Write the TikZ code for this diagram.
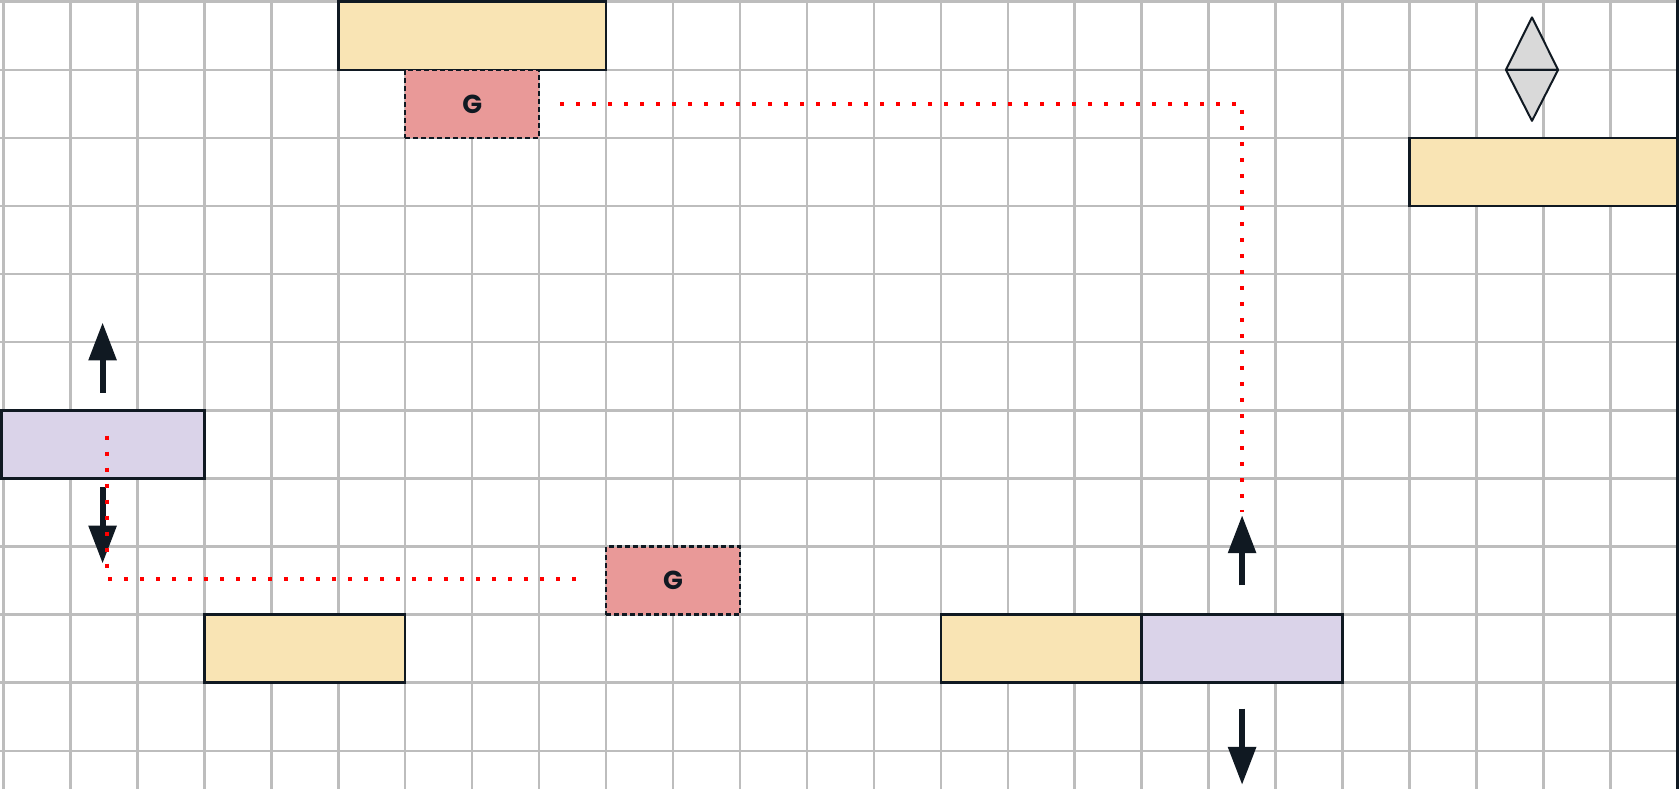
\documentclass[tikz,border=0pt]{standalone}
\usepackage{fontspec}
\setmainfont{Poppins}
\usetikzlibrary{arrows.meta,fit}
\definecolor{gridgray}{HTML}{BDBDBD}
\definecolor{ink}{HTML}{101922}
\definecolor{sand}{HTML}{F9E4B4}
\definecolor{lilac}{HTML}{DAD3E9}
\definecolor{rose}{HTML}{E99998}
\definecolor{diagray}{HTML}{D9D9D9}
\tikzset{
  gridline/.style={gridgray, line width=0.025cm},
  box/.style={draw=ink, line width=0.025cm, inner sep=0pt, outer sep=0pt},
  sandbox/.style={box, fill=sand},
  lilacbox/.style={box, fill=lilac},
  gbox/.style={box, fill=rose, dash pattern=on 0.05cm off 0.03cm,
    label={[font=\bfseries\fontsize{7.4pt}{8pt}\selectfont, text=ink]center:G}},
  bigarrow/.style={ink, line width=0.06cm, -{Triangle[length=0.38cm,width=0.27cm]}},
  reddots/.style={red, line width=0.04cm, dash pattern=on 0.04cm off 0.12cm},
  diamondhalf/.style={fill=diagray, draw=ink, line width=0.02cm, line join=round},
}
\begin{document}
\begin{tikzpicture}[x=0.6695cm, y=-0.681cm]
\useasboundingbox (-0.0523,-0.025) rectangle (25.026,11.546);
% grid
\foreach \i in {0,...,24} \draw[gridline] (\i,-0.1) -- (\i,11.7);
\foreach \j in {0,...,11} \draw[gridline] (-0.1,\j) -- (25,\j);
\draw[ink, line width=0.025cm] (25,-0.1) -- (25,11.7);

% boxes
\node[sandbox, fit={(5,0) (9,1)}] (ytop) {};
\node[gbox, fit={(6,1) (8,2)}] (gtop) {};
\node[sandbox, fit={(21,2) (25,3)}] (yright) {};
\node[lilacbox, fit={(-0.03,6) (3,7)}] (pleft) {};
\node[sandbox, fit={(3,9) (6,10)}] (ybottom) {};
\node[gbox, fit={(9,8) (11,9)}] (gbottom) {};
\node[sandbox, fit={(14,9) (17,10)}] (ypair) {};
\node[lilacbox, fit={(17,9) (20,10)}] (ppair) {};

% diamond
\coordinate (dtop) at (22.83,0.23);
\coordinate (dleft) at (22.44,1.0);
\coordinate (dright) at (23.22,1.0);
\coordinate (dbot) at (22.83,1.75);
\draw[diamondhalf] (dtop) -- (dright) -- (dleft) -- cycle;
\draw[diamondhalf] (dleft) -- (dright) -- (dbot) -- cycle;

% arrows
\coordinate (lua) at (1.48,5.74);
\coordinate (lub) at (1.48,4.71);
\coordinate (lda) at (1.48,7.12);
\coordinate (ldb) at (1.48,8.25);
\coordinate (rua) at (18.5,8.57);
\coordinate (rub) at (18.5,7.54);
\coordinate (rda) at (18.5,10.38);
\coordinate (rdb) at (18.5,11.5);
\draw[bigarrow] (lua) -- (lub);
\draw[bigarrow] (lda) -- (ldb);
\draw[bigarrow] (rua) -- (rub);
\draw[bigarrow] (rda) -- (rdb);

% red dotted connectors
\coordinate (t0) at ([xshift=0.21cm]gtop.east);
\coordinate (t1) at (18.5,7.49);
\draw[reddots] (t0) -| (t1);
\coordinate (b0) at (1.55,6.37);
\coordinate (b1) at (8.67,8.47);
\draw[reddots] (b0) |- (b1);
\end{tikzpicture}
\end{document}
